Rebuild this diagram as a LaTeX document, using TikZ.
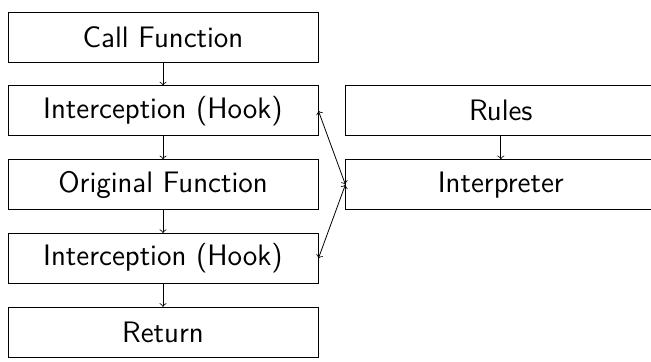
\documentclass[tikz,border=0pt]{standalone}
\usetikzlibrary{arrows, positioning}

\begin{document}
\begin{tikzpicture}[
						node distance = 11.5pt and 13.5pt,
						block/.style={draw,rectangle,minimum width=155pt,minimum height=25pt,font=\sffamily\fontsize{14.8}{17}\selectfont},
						every edge/.append style={draw, shorten > = 0pt},]
		% page frame, the right column runs off the edge
		\useasboundingbox (-81.5pt,18.5pt) rectangle ++(325.5pt,-180.5pt);

		\node (call) [block] {Call Function};
		\node (hook_in) [block,below=of call] {Interception (Hook)};
		\node (orig) [block,below=of hook_in] {Original Function};
		\node (hook_out) [block,below=of orig] {Interception (Hook)};
		\node (ret) [block,below=of hook_out] {Return};
		\node (rules) [block,right=of hook_in] {Rules};
		\node (interp) [block,right=of orig] {Interpreter};

		\path 	(call) edge[->] (hook_in)
				(hook_in) edge[->] (orig)
				(orig) edge[->] (hook_out)
				(hook_out) edge[->] (ret)
				(rules) edge[->] (interp)
				(hook_in.east) edge[<->] (interp.west)
				(hook_out.east) edge[<->] (interp.west);
	\end{tikzpicture}
\end{document}
